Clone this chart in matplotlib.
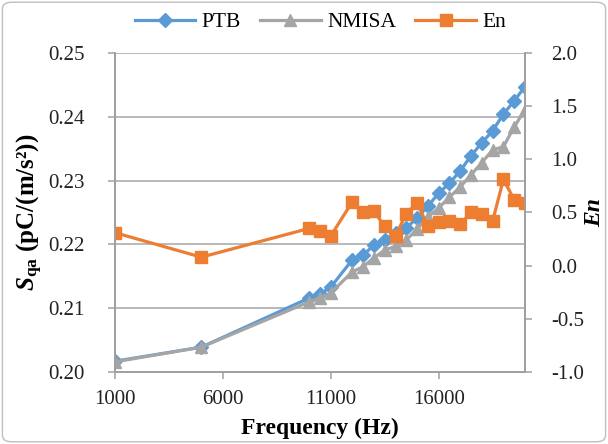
import matplotlib
matplotlib.use('Agg')
import matplotlib.pyplot as plt
from matplotlib.patches import FancyBboxPatch
import numpy as np

plt.rcParams['font.family'] = ['Liberation Serif', 'DejaVu Serif']
plt.rcParams['mathtext.fontset'] = 'custom'
plt.rcParams['mathtext.rm'] = 'Liberation Serif'
plt.rcParams['mathtext.it'] = 'Liberation Serif:italic'
plt.rcParams['mathtext.bf'] = 'Liberation Serif:bold'
plt.rcParams['mathtext.bfit'] = 'Liberation Serif:bold:italic'

freq = [1000, 5000, 10000, 10500, 11000, 12000, 12500, 13000, 13500, 14000, 14500,
        15000, 15500, 16000, 16500, 17000, 17500, 18000, 18500, 19000, 19500, 20000]
ptb = [0.2017, 0.2039, 0.2116, 0.2122, 0.2133, 0.2176, 0.2183, 0.2199, 0.2207, 0.2218, 0.2226,
       0.2241, 0.2260, 0.2280, 0.2296, 0.2315, 0.2339, 0.2359, 0.2378, 0.2404, 0.2425, 0.2447]
nmisa = [0.2016, 0.2039, 0.2110, 0.2116, 0.2124, 0.2157, 0.2165, 0.2179, 0.2191, 0.2197, 0.2207,
         0.2224, 0.2243, 0.2257, 0.2274, 0.2290, 0.2309, 0.2328, 0.2348, 0.2353, 0.2384, 0.2411]
en = [0.31, 0.08, 0.35, 0.33, 0.28, 0.60, 0.50, 0.51, 0.37, 0.28, 0.49,
      0.59, 0.37, 0.41, 0.42, 0.39, 0.50, 0.49, 0.42, 0.81, 0.62, 0.59]

blue = '#5B9BD5'
grey = '#A5A5A5'
orange = '#ED7D31'
axcol = '#A0A0A0'

fig = plt.figure(figsize=(6.08, 4.44), dpi=100)
ax = fig.add_axes([0.189, 0.162, 0.8635 - 0.189, 0.881 - 0.162])
ax2 = ax.twinx()

l1, = ax.plot(freq, ptb, color=blue, lw=2.3, marker='D', ms=7, mec=blue, mfc=blue, label='PTB')
l2, = ax.plot(freq, nmisa, color=grey, lw=2.3, marker='^', ms=8.5, mec=grey, mfc=grey, label='NMISA')
l3, = ax2.plot(freq, en, color=orange, lw=2.3, marker='s', ms=8.5, mec=orange, mfc=orange, label='En')

ax.set_xlim(1000, 20000)
ax.set_ylim(0.20, 0.25)
ax2.set_ylim(-1.0, 2.0)
ax.set_xticks([1000, 6000, 11000, 16000])
ax.set_yticks(np.arange(0.20, 0.2501, 0.01))
ax.set_yticklabels(['%.2f' % v for v in np.arange(0.20, 0.2501, 0.01)])
ax2.set_yticks(np.arange(-1.0, 2.01, 0.5))
ax2.set_yticklabels(['%.1f' % v for v in np.arange(-1.0, 2.01, 0.5)])

ax.grid(axis='y', color='#A6A6A6', lw=1.1)
ax.set_axisbelow(True)
for a in (ax, ax2):
    for s in a.spines.values():
        s.set_color(axcol)
        s.set_linewidth(1.3)
    a.spines['top'].set_visible(False)
    a.tick_params(colors=axcol, labelcolor='#222222', labelsize=15, length=5, width=1.1)
ax.tick_params(axis='x', pad=8)
ax.tick_params(axis='y', pad=17)
ax2.tick_params(axis='y', pad=14)

ax.set_xlabel('Frequency (Hz)', fontsize=17, fontweight='bold', labelpad=6)
ax.set_ylabel(r'$\mathbfit{S}_{\mathbf{qa}}$ (pC/(m/s²))', fontsize=18, fontweight='bold', labelpad=2)
ax2.set_ylabel('En', fontsize=17, fontweight='bold', style='italic', rotation=90, labelpad=0)

fig.legend(handles=[l1, l2, l3], loc='center', bbox_to_anchor=(0.527, 0.95), ncol=3,
           frameon=False, fontsize=15.5, handlelength=2.8, columnspacing=0.9, handletextpad=0.3)

border = FancyBboxPatch((0.004, 0.005), 0.992, 0.99, boxstyle='round,pad=0,rounding_size=0.015',
                        transform=fig.transFigure, fill=False, ec='#BFBFBF', lw=1.0)
fig.patches.append(border)

fig.savefig('out.png', dpi=100)
